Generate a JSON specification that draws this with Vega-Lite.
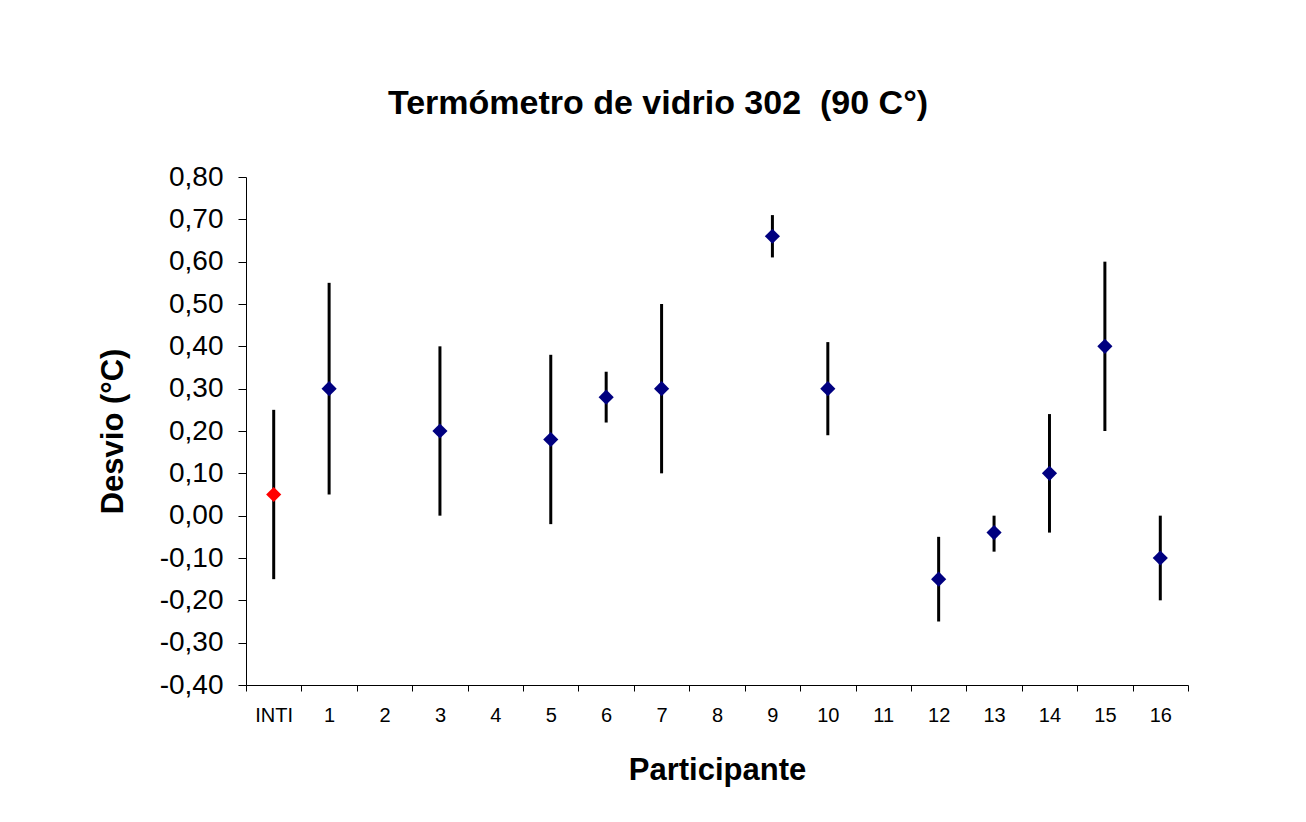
{
  "$schema": "https://vega.github.io/schema/vega-lite/v6.json",
  "autosize": "none",
  "width": 942,
  "height": 508,
  "padding": {"left": 246, "top": 177, "right": 118, "bottom": 137},
  "background": "white",
  "title": {
    "text": "Termómetro de vidrio 302 \u00a0(90 C°)",
    "font": "Liberation Sans",
    "fontSize": 34,
    "fontWeight": "bold",
    "color": "black",
    "anchor": "middle",
    "frame": "group",
    "dx": -59,
    "offset": 42
  },
  "config": {
    "locale": {"number": {"decimal": ",", "thousands": ".", "grouping": [3], "currency": ["", ""], "minus": "-"}},
    "view": {"stroke": null},
    "axis": {"domainColor": "black", "tickColor": "black", "labelColor": "black", "titleColor": "black", "grid": false, "labelFont": "Liberation Sans", "titleFont": "Liberation Sans"}
  },
  "data": {
    "values": [
      {"participante": "INTI", "tipo": "referencia", "desvio": 0.05, "inferior": -0.15, "superior": 0.25},
      {"participante": "1", "tipo": "participante", "desvio": 0.30, "inferior": 0.05, "superior": 0.55},
      {"participante": "3", "tipo": "participante", "desvio": 0.20, "inferior": 0.00, "superior": 0.40},
      {"participante": "5", "tipo": "participante", "desvio": 0.18, "inferior": -0.02, "superior": 0.38},
      {"participante": "6", "tipo": "participante", "desvio": 0.28, "inferior": 0.22, "superior": 0.34},
      {"participante": "7", "tipo": "participante", "desvio": 0.30, "inferior": 0.10, "superior": 0.50},
      {"participante": "9", "tipo": "participante", "desvio": 0.66, "inferior": 0.61, "superior": 0.71},
      {"participante": "10", "tipo": "participante", "desvio": 0.30, "inferior": 0.19, "superior": 0.41},
      {"participante": "12", "tipo": "participante", "desvio": -0.15, "inferior": -0.25, "superior": -0.05},
      {"participante": "13", "tipo": "participante", "desvio": -0.04, "inferior": -0.085, "superior": 0.00},
      {"participante": "14", "tipo": "participante", "desvio": 0.10, "inferior": -0.04, "superior": 0.24},
      {"participante": "15", "tipo": "participante", "desvio": 0.40, "inferior": 0.20, "superior": 0.60},
      {"participante": "16", "tipo": "participante", "desvio": -0.10, "inferior": -0.20, "superior": 0.00}
    ]
  },
  "encoding": {
    "x": {
      "field": "participante",
      "type": "nominal",
      "sort": null,
      "scale": {"domain": ["INTI", "1", "2", "3", "4", "5", "6", "7", "8", "9", "10", "11", "12", "13", "14", "15", "16"], "paddingInner": 0, "paddingOuter": 0},
      "axis": {
        "title": "Participante",
        "titleFontSize": 31,
        "titleFontWeight": "bold",
        "titlePadding": 30,
        "labelAngle": 0,
        "labelFontSize": 20,
        "labelPadding": 14,
        "tickSize": 6,
        "tickBand": "extent",
        "domainWidth": 1
      }
    }
  },
  "layer": [
    {
      "mark": {"type": "rule", "strokeWidth": 3, "color": "black"},
      "encoding": {
        "y": {
          "field": "inferior",
          "type": "quantitative",
          "scale": {"domain": [-0.4, 0.8], "nice": false, "zero": false},
          "axis": {
            "title": "Desvio (°C)",
            "titleFontSize": 31,
            "titleFontWeight": "bold",
            "titlePadding": 30,
            "values": [-0.4, -0.3, -0.2, -0.1, 0, 0.1, 0.2, 0.3, 0.4, 0.5, 0.6, 0.7, 0.8],
            "format": ".2f",
            "labelFontSize": 28,
            "labelPadding": 15,
            "tickSize": 8
          }
        },
        "y2": {"field": "superior"}
      }
    },
    {
      "mark": {"type": "point", "shape": "diamond", "filled": true, "size": 230, "opacity": 1},
      "encoding": {
        "y": {"field": "desvio", "type": "quantitative"},
        "color": {
          "field": "tipo",
          "type": "nominal",
          "scale": {"domain": ["referencia", "participante"], "range": ["#FF0000", "#000080"]},
          "legend": null
        }
      }
    }
  ]
}
